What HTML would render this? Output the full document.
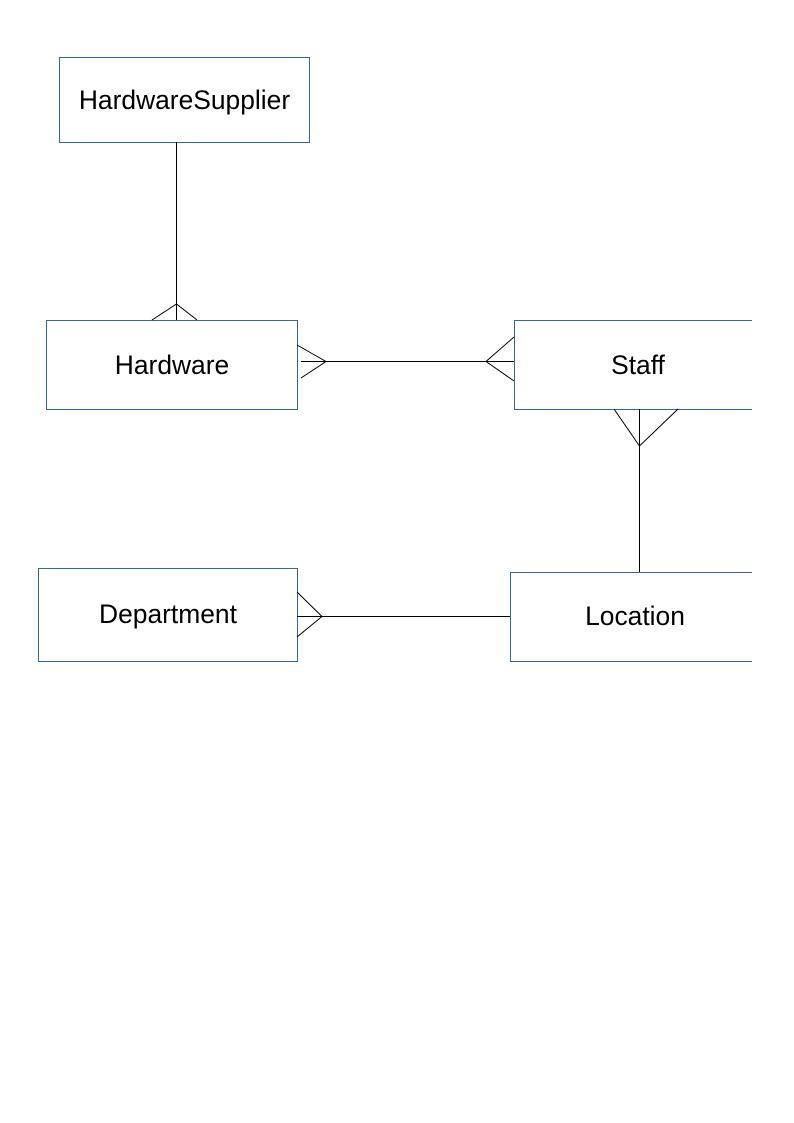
<!DOCTYPE html>
<html><head><style>
body{margin:0;background:#fff}
svg{display:block}
text{font-family:"Liberation Sans",sans-serif;font-size:26.4px;fill:#000;text-anchor:middle;dominant-baseline:central}
</style></head><body>
<svg width="794" height="1123" viewBox="0 0 794 1123">
<g fill="none" stroke="#3465a4" stroke-width="1">
<rect x="59.5" y="57.5" width="250" height="85"/>
<rect x="46.5" y="320.5" width="251" height="89"/>
<path d="M752 320.5H514.5V409.5H752"/>
<rect x="38.5" y="568.5" width="259" height="93"/>
<path d="M752 572.5H510.5V661.5H752"/>
</g>
<g fill="none" stroke="#000" stroke-width="1">
<path d="M176.5 142V320M152 320L176.5 304L197 320"/>
<path d="M301 361.5H514M297 345L326 361.5L301 378M514 337L486 361.5L514 381"/>
<path d="M639.5 409V572M614 409L639.5 446L678 409"/>
<path d="M297 616.5H510M297 592L322 616.5L297 637"/>
</g>
<text x="184.5" y="100">HardwareSupplier</text>
<text x="172" y="365">Hardware</text>
<text x="638" y="365">Staff</text>
<text x="168" y="614">Department</text>
<text x="635" y="616">Location</text>
</svg>
</body></html>
